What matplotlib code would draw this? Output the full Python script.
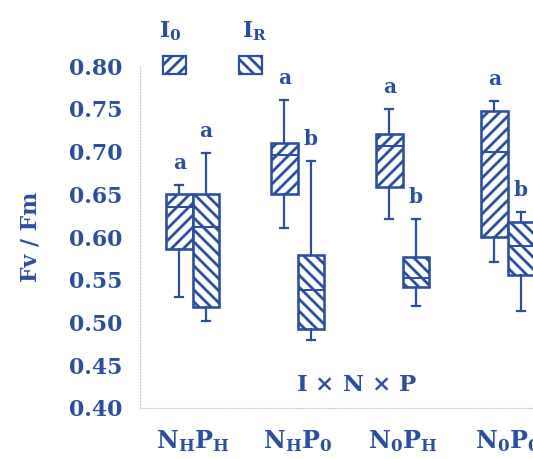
import numpy as np
import matplotlib
matplotlib.use("Agg")
import matplotlib.pyplot as plt
from matplotlib.patches import Rectangle

# colours / fonts
BLUE = "#2B4FA0"
plt.rcParams['font.family'] = ['DejaVu Serif']
plt.rcParams['font.weight'] = 'bold'
plt.rcParams['mathtext.fontset'] = 'dejavuserif'
plt.rcParams['hatch.linewidth'] = 2.8
plt.rcParams['hatch.color'] = BLUE

# data (Fv/Fm)
groups = [r"$\mathbf{N_HP_H}$", r"$\mathbf{N_HP_0}$", r"$\mathbf{N_0P_H}$", r"$\mathbf{N_0P_0}$"]

i0_lo = [0.530, 0.610, 0.621, 0.571]
i0_q1 = [0.586, 0.650, 0.658, 0.600]
i0_med = [0.635, 0.696, 0.706, 0.700]
i0_q3 = [0.650, 0.710, 0.720, 0.747]
i0_hi = [0.661, 0.760, 0.750, 0.759]

ir_lo = [0.502, 0.480, 0.519, 0.513]
ir_q1 = [0.518, 0.492, 0.542, 0.556]
ir_med = [0.612, 0.538, 0.552, 0.590]
ir_q3 = [0.650, 0.579, 0.577, 0.618]
ir_hi = [0.698, 0.689, 0.621, 0.629]

i0_letters = ["a", "a", "a", "a"]
ir_letters = ["a", "b", "b", "b"]


def make_stats(lo, q1, med, q3, hi):
    return [dict(whislo=a, q1=b, med=c, q3=d, whishi=e, fliers=[])
            for a, b, c, d, e in zip(lo, q1, med, q3, hi)]


W, H = 533, 459
fig = plt.figure(figsize=(W / 72, H / 72), dpi=72)
ax = fig.add_axes([140 / W, (H - 408) / H, 420 / W, (408 - 66) / H])

pos = np.arange(1, len(groups) + 1)
bw = 0.25
for stats, off, hatch, letters in [
    (make_stats(i0_lo, i0_q1, i0_med, i0_q3, i0_hi), -bw / 2, '//', i0_letters),
    (make_stats(ir_lo, ir_q1, ir_med, ir_q3, ir_hi), bw / 2, '\\\\', ir_letters),
]:
    bp = ax.bxp(stats, positions=pos + off, widths=bw, patch_artist=True,
                showfliers=False, capwidths=0.075, manage_ticks=False,
                boxprops=dict(facecolor='white', edgecolor=BLUE, linewidth=2.6, hatch=hatch),
                medianprops=dict(color=BLUE, linewidth=2.0),
                whiskerprops=dict(color=BLUE, linewidth=2.2),
                capprops=dict(color=BLUE, linewidth=2.2))
    for p, s, lt in zip(pos + off, stats, letters):
        ax.text(p, s['whishi'] + 0.014, lt, ha='center', va='bottom',
                color=BLUE, fontsize=20, fontweight='bold')

ax.set_xlim(0.5, 4.5)
ax.set_ylim(0.40, 0.80)
ax.set_yticks(np.arange(0.40, 0.801, 0.05))
ax.set_yticklabels([f"{v:.2f}" for v in np.arange(0.40, 0.801, 0.05)])
ax.set_xticks(pos)
ax.set_xticklabels(groups)
ax.tick_params(axis='y', length=0, pad=18, labelsize=22, labelcolor=BLUE)
ax.tick_params(axis='x', length=0, pad=20, labelsize=24, labelcolor=BLUE)

for side in ['top', 'right']:
    ax.spines[side].set_visible(False)
for side in ['left', 'bottom']:
    ax.spines[side].set_color('#c3cde2')
    ax.spines[side].set_linestyle(':')
    ax.spines[side].set_linewidth(1.2)

ax.set_ylabel("Fv / Fm", color=BLUE, fontsize=22, fontweight='bold')
ax.yaxis.set_label_coords(-0.235, 0.5)

ax.text(357, 459 - 385, r"I $\times$ N $\times$ P", transform=None, ha='center', va='center',
        color=BLUE, fontsize=23, fontweight='bold')

# legend drawn by hand: labels above small hatched squares
for x0, xt, txt, hatch in [(163, 170, r"$\mathbf{I_0}$", '//'),
                           (239, 255, r"$\mathbf{I_R}$", '\\\\')]:
    fig.text(xt / W, 1 - 31 / H, txt, ha='center', va='center',
             color=BLUE, fontsize=22)
    fig.add_artist(Rectangle((x0 / W, 1 - 74 / H), 23 / W, 18 / H, transform=fig.transFigure,
                             facecolor='white', edgecolor=BLUE, linewidth=2.2, hatch=hatch))

fig.savefig("out.png", dpi=72, facecolor='white')
